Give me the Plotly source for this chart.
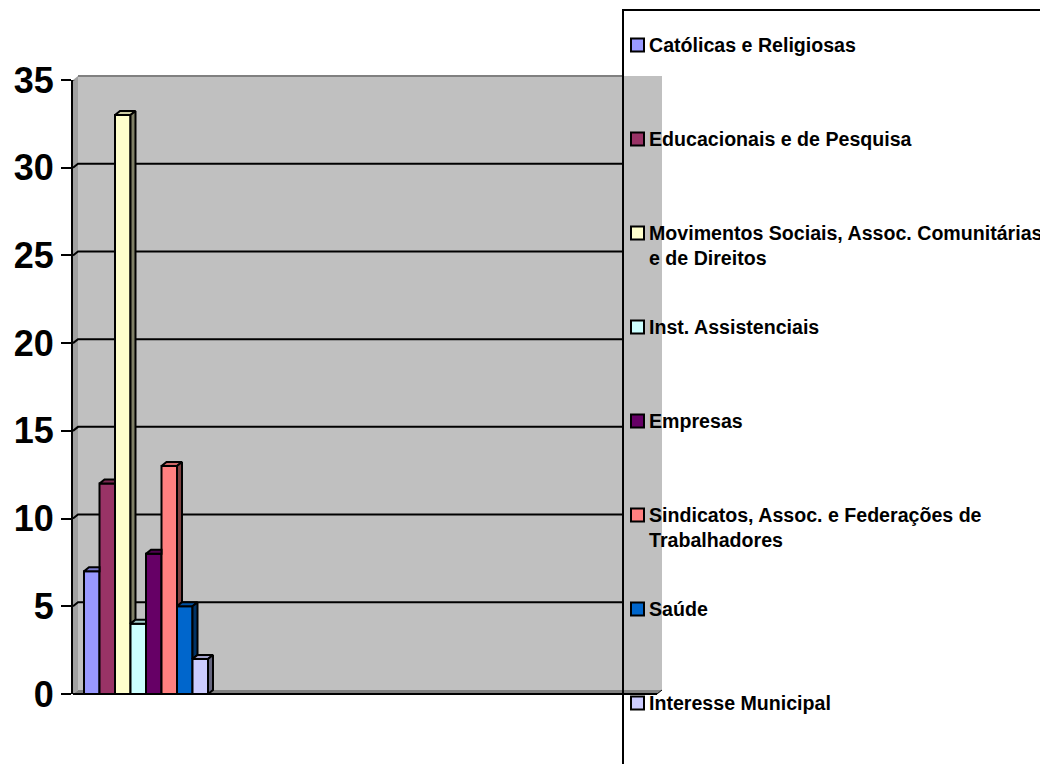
import textwrap
import plotly.graph_objects as go

# Organisations by type (single group of clustered 3-D style columns)
labels = [
    "Católicas e Religiosas",
    "Educacionais e de Pesquisa",
    "Movimentos Sociais, Assoc. Comunitárias e de Direitos",
    "Inst. Assistenciais",
    "Empresas",
    "Sindicatos, Assoc. e Federações de Trabalhadores",
    "Saúde",
    "Interesse Municipal",
]
values = [7, 12, 33, 4, 8, 13, 5, 2]
colors = ["#9999FF", "#993366", "#FFFFCC", "#CCFFFF",
          "#660066", "#FF8080", "#0066CC", "#CCCCFF"]
y_ticks = [0, 5, 10, 15, 20, 25, 30, 35]

# ---- page geometry (pixels) ----
FIG_W, FIG_H = 1040, 764
L, R, T, B = 73, 662, 80, 694          # plot area of the front plane
W, H = R - L, B - T
Y_MAX = 35
BAR_PX = 15.5                           # width of one column in pixels
FIRST_BAR_PX = 84                       # left edge of the first column
DEPTH_X, DEPTH_Y = 5, 4                 # 3-D depth offset in pixels
WALL_END = 622

px_per_y = H / Y_MAX
x0 = -0.5 - (FIRST_BAR_PX - L) / BAR_PX
x1 = x0 + W / BAR_PX
dx = DEPTH_X / BAR_PX
dy = DEPTH_Y / px_per_y


def paper_x(px):
    return (px - L) / W


def paper_y(py):
    return (B - py) / H


def shade(hex_color, f):
    h = hex_color.lstrip("#")
    r, g, b = (int(h[i:i + 2], 16) for i in (0, 2, 4))
    return "#%02x%02x%02x" % (int(r * f), int(g * f), int(b * f))


FONT = "Arial, 'Liberation Sans', sans-serif"

fig = go.Figure()

n = len(values)
# front faces
for i, (lab, v, c) in enumerate(zip(labels, values, colors)):
    fig.add_trace(go.Bar(
        x=[i], y=[v], width=1, name=lab,
        marker=dict(color=c, line=dict(color="black", width=2)),
        hoverinfo="name+y", showlegend=False,
    ))

# top and side faces (only the parts not hidden by the next column)
for i, (v, c) in enumerate(zip(values, colors)):
    nxt = values[i + 1] if i + 1 < n else 0
    left, right = i - 0.5, i + 0.5
    if nxt > v:
        tx = [left, right, right, left + dx, left]
        ty = [v, v, v + dy, v + dy, v]
    else:
        tx = [left, right, right + dx, left + dx, left]
        ty = [v, v, v + dy, v + dy, v]
    fig.add_trace(go.Scatter(
        x=tx, y=ty, mode="lines", fill="toself",
        fillcolor=shade(c, 0.8), line=dict(color="black", width=2),
        hoverinfo="skip", showlegend=False,
    ))
    if nxt < v:
        sx = [right, right, right + dx, right + dx, right]
        sy = [nxt, v, v + dy, nxt + dy, nxt]
        fig.add_trace(go.Scatter(
            x=sx, y=sy, mode="lines", fill="toself",
            fillcolor=shade(c, 0.5), line=dict(color="black", width=2),
            hoverinfo="skip", showlegend=False,
        ))

shapes = []
# back wall
shapes.append(dict(type="rect", xref="paper", yref="paper", layer="below",
                   x0=paper_x(L + DEPTH_X), x1=paper_x(R),
                   y0=paper_y(B - DEPTH_Y), y1=paper_y(T - DEPTH_Y),
                   fillcolor="#C0C0C0", line=dict(width=0)))
# left side of the wall
shapes.append(dict(type="path", xref="paper", yref="paper", layer="below",
                   path="M %f %f L %f %f L %f %f L %f %f Z" % (
                       paper_x(L), paper_y(T), paper_x(L + DEPTH_X), paper_y(T - DEPTH_Y),
                       paper_x(L + DEPTH_X), paper_y(B - DEPTH_Y), paper_x(L), paper_y(B)),
                   fillcolor="#A0A0A0", line=dict(width=0)))
# top edge of the wall
shapes.append(dict(type="line", xref="paper", yref="paper", layer="below",
                   x0=paper_x(L + DEPTH_X), x1=paper_x(WALL_END),
                   y0=paper_y(T - DEPTH_Y), y1=paper_y(T - DEPTH_Y),
                   line=dict(color="#808080", width=2)))
# floor
shapes.append(dict(type="path", xref="paper", yref="paper", layer="below",
                   path="M %f %f L %f %f L %f %f L %f %f Z" % (
                       paper_x(L), paper_y(B), paper_x(R - DEPTH_X), paper_y(B),
                       paper_x(R), paper_y(B - DEPTH_Y), paper_x(L + DEPTH_X), paper_y(B - DEPTH_Y)),
                   fillcolor="#808080", line=dict(width=0)))
shapes.append(dict(type="line", xref="paper", yref="paper", layer="below",
                   x0=paper_x(L), x1=paper_x(R - DEPTH_X), y0=paper_y(B), y1=paper_y(B),
                   line=dict(color="black", width=2)))
shapes.append(dict(type="line", xref="paper", yref="paper", layer="below",
                   x0=paper_x(R - DEPTH_X), x1=paper_x(R), y0=paper_y(B), y1=paper_y(B - DEPTH_Y),
                   line=dict(color="black", width=1)))
# gridlines on the back wall
for t in y_ticks[1:]:
    path = "M %f %f L %f %f" % (paper_x(L), t, paper_x(L + DEPTH_X), t + dy)
    if t != Y_MAX:
        path += " L %f %f" % (paper_x(WALL_END), t + dy)
    shapes.append(dict(type="path", xref="paper", yref="y", layer="below",
                       path=path, line=dict(color="black", width=2)))

# legend frame
shapes.append(dict(type="rect", xref="paper", yref="paper", layer="above",
                   x0=paper_x(623), x1=paper_x(FIG_W + 20),
                   y0=paper_y(FIG_H + 20), y1=paper_y(10),
                   fillcolor="rgba(0,0,0,0)", line=dict(color="black", width=2)))

annotations = []
LEG_FIRST, LEG_STEP, LINE_H = 45, 94, 25
for k, (lab, c) in enumerate(zip(labels, colors)):
    cy = LEG_FIRST + LEG_STEP * k
    shapes.append(dict(type="rect", xref="paper", yref="paper", layer="above",
                       x0=paper_x(631), x1=paper_x(644),
                       y0=paper_y(cy + 6.5), y1=paper_y(cy - 6.5),
                       fillcolor=c, line=dict(color="black", width=2)))
    lines = textwrap.wrap(lab, 39)
    annotations.append(dict(
        xref="paper", yref="paper", x=paper_x(647), xanchor="left",
        y=paper_y(cy + (len(lines) - 1) * LINE_H / 2), yanchor="middle",
        text="<br>".join(lines), align="left", showarrow=False,
        font=dict(family=FONT, size=19.6, color="black", weight="bold"),
    ))

fig.update_layout(
    width=FIG_W, height=FIG_H,
    margin=dict(l=L, r=FIG_W - R, t=T, b=FIG_H - B, pad=0),
    paper_bgcolor="white", plot_bgcolor="rgba(0,0,0,0)",
    barmode="overlay", showlegend=False,
    shapes=shapes, annotations=annotations,
    xaxis=dict(range=[x0, x1], visible=False, fixedrange=True),
    yaxis=dict(range=[0, Y_MAX], tickvals=y_ticks, showgrid=False, zeroline=False,
               showline=True, linecolor="black", linewidth=2,
               ticks="outside", ticklen=10, tickwidth=2, tickcolor="black",
               tickfont=dict(family=FONT, size=36, color="black", weight="bold"),
               fixedrange=True),
)

fig.write_html("out.html")
